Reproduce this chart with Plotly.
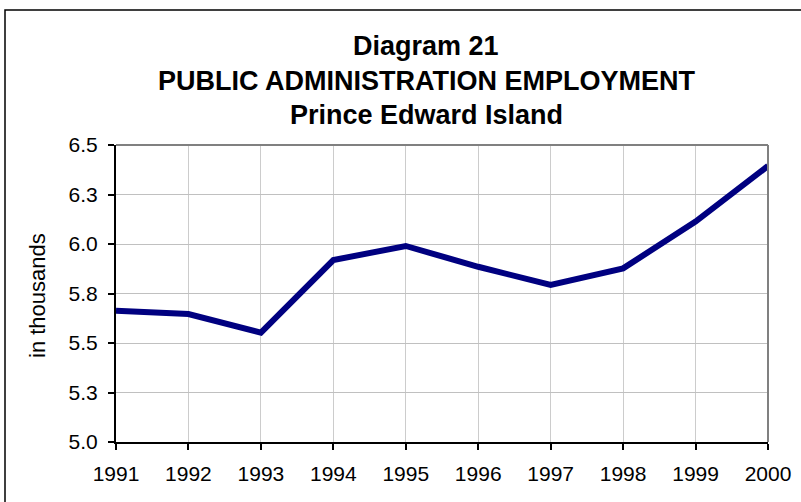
import plotly.graph_objects as go

years = [1991, 1992, 1993, 1994, 1995, 1996, 1997, 1998, 1999, 2000]
employment = [5.663, 5.646, 5.552, 5.919, 5.990, 5.885, 5.793, 5.877, 6.113, 6.394]
y_tickvals = [5.0, 5.25, 5.5, 5.75, 6.0, 6.25, 6.5]
y_ticktext = ["5.0", "5.3", "5.5", "5.8", "6.0", "6.3", "6.5"]
x_ticktext = [str(y) for y in years]
title_lines = ["Diagram 21", "PUBLIC ADMINISTRATION EMPLOYMENT", "Prince Edward Island"]

FONT = "Liberation Sans, Arial, sans-serif"

# plot area in pixels
L, R, T, B = 116, 768, 145, 442
W, H = R - L, B - T

def px_x(x):
    return (x - L) / W

def px_y(y):
    return (B - y) / H

fig = go.Figure()
fig.add_trace(go.Scatter(
    x=years, y=employment, mode="lines",
    line=dict(color="#000080", width=6),
    showlegend=False, hoverinfo="x+y",
))

annotations = []
for txt, yc in zip(title_lines, [46, 81, 115]):
    annotations.append(dict(
        text=f"<b>{txt}</b>", xref="paper", yref="paper",
        x=px_x(426), y=px_y(yc), xanchor="center", yanchor="middle",
        showarrow=False, font=dict(family=FONT, size=27, color="black"),
    ))
annotations.append(dict(
    text="in thousands", xref="paper", yref="paper",
    x=px_x(37), y=px_y(296), xanchor="center", yanchor="middle",
    textangle=-90, showarrow=False,
    font=dict(family=FONT, size=22, color="black"),
))

fig.update_layout(
    width=801, height=502,
    margin=dict(l=L, r=801 - R, t=T, b=502 - B, autoexpand=False),
    paper_bgcolor="white", plot_bgcolor="white",
    font=dict(family=FONT, color="black"),
    xaxis=dict(
        range=[1991, 2000], tickvals=years, ticktext=x_ticktext,
        showgrid=True, gridcolor="#cccccc", gridwidth=1,
        showline=True, linecolor="black", linewidth=2,
        ticks="outside", ticklen=6, tickcolor="black", tickwidth=1.5,
        ticklabelstandoff=6,
        tickfont=dict(size=21), zeroline=False, automargin=False,
    ),
    yaxis=dict(
        range=[5.0, 6.5], tickvals=y_tickvals, ticktext=y_ticktext,
        showgrid=True, gridcolor="#c0c0c0", gridwidth=1,
        showline=True, linecolor="black", linewidth=2,
        ticks="outside", ticklen=6, tickcolor="black", tickwidth=1.5,
        ticklabelstandoff=6,
        tickfont=dict(size=21), zeroline=False, automargin=False,
    ),
    annotations=annotations,
    shapes=[
        dict(type="line", xref="paper", yref="paper", x0=0, x1=1, y0=1, y1=1,
             line=dict(color="#808080", width=2)),
        dict(type="line", xref="paper", yref="paper", x0=1, x1=1, y0=0, y1=1,
             line=dict(color="#808080", width=2)),
        dict(type="rect", xref="paper", yref="paper",
             x0=px_x(5), x1=px_x(820), y0=px_y(520), y1=px_y(10),
             line=dict(color="black", width=1.5), layer="below"),
    ],
)

fig.write_html(
    "out.html",
    config={"displayModeBar": False},
    post_script="document.body.style.margin='0';document.body.style.overflow='hidden';",
)
